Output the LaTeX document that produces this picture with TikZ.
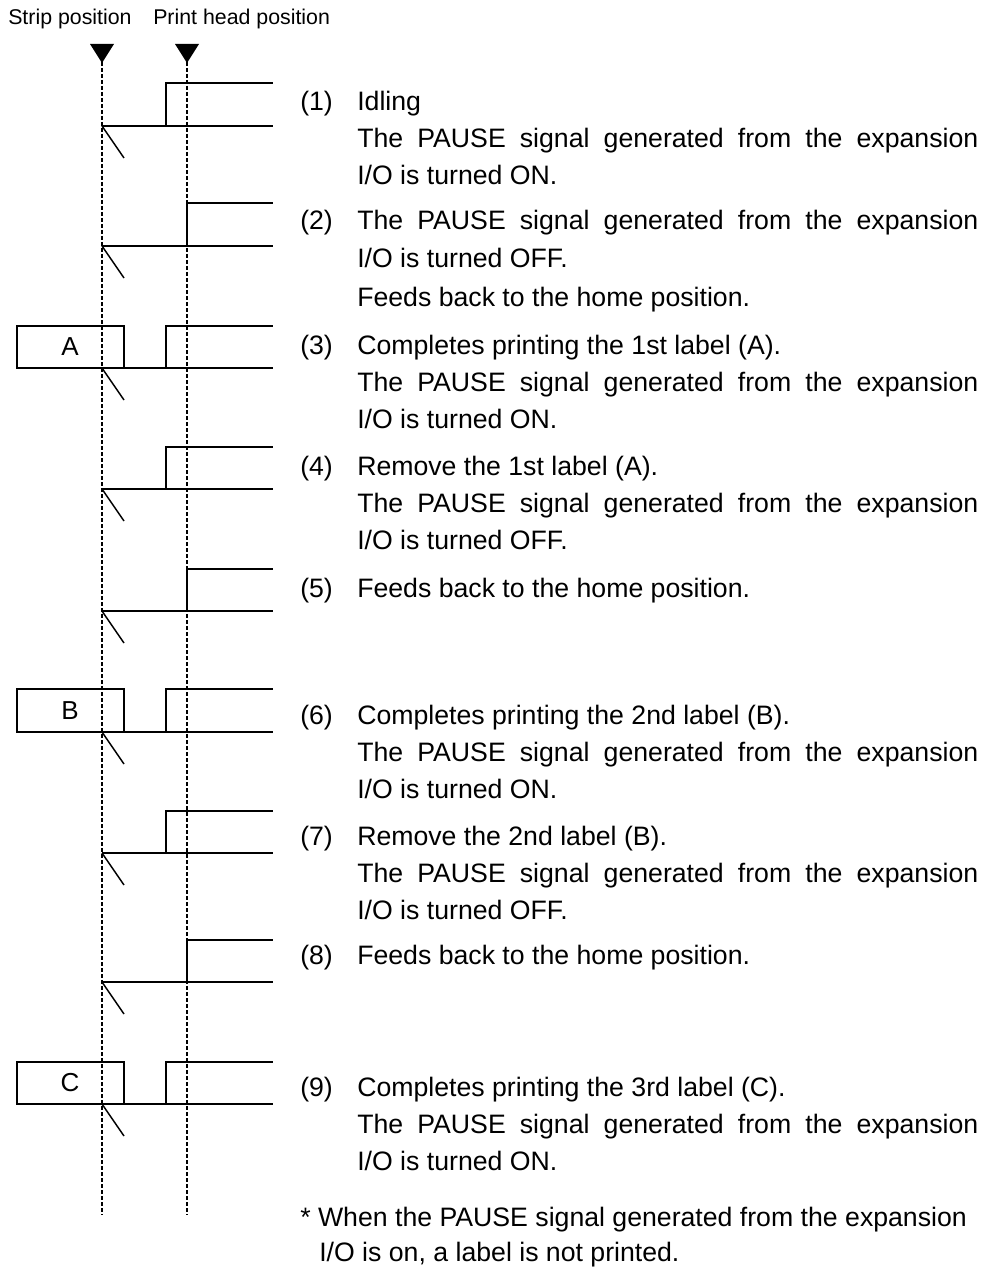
\documentclass[tikz,border=0pt]{standalone}
\usepackage{fontspec}
\setmainfont{Liberation Sans}
\newcommand\sigOn[2]{%
  \draw[sig] (102,#2) -- (273,#2);
  \draw[sig] (166,#2) -- (166,#1) -- (273,#1);
  \draw[diag] (102,#2) -- (124,#2+32);}
\newcommand\sigBack[2]{%
  \draw[sig] (102,#2) -- (273,#2);
  \draw[sig] (187,#2) -- (187,#1) -- (273,#1);
  \draw[diag] (102,#2) -- (124,#2+32);}
\newcommand\sigPrint[3]{%
  \draw[sig] (17,#1) rectangle (124,#2);
  \draw[sig] (124,#2) -- (273,#2);
  \draw[sig] (166,#2) -- (166,#1) -- (273,#1);
  \draw[diag] (102,#2) -- (124,#2+32);
  \node[lbl] (box#3) at (70,{(#1+#2)/2}) {#3};}
\newcommand\tline[4]{\node[txt] (#1) at (#2,#3) {#4};}
\newcommand\jline[2]{\node[txt] (#1) at (357,#2) {\makebox[465.75pt][s]{The PAUSE signal generated from the expansion}};}
\begin{document}
\begin{tikzpicture}[x=0.75pt,y=-0.75pt,
  sig/.style={line width=1.5pt, line join=miter},
  guide/.style={line width=1.1pt, dash pattern=on 3pt off 1.5pt},
  diag/.style={line width=1.1pt},
  pointer/.style={fill=black},
  txt/.style={anchor=base west, inner sep=0pt, font=\fontsize{20}{24}\selectfont},
  hdr/.style={anchor=base west, inner sep=0pt, font=\fontsize{16}{19}\selectfont},
  lbl/.style={inner sep=0pt, font=\fontsize{19.5}{23}\selectfont}]
\useasboundingbox (0,0) rectangle (993,1269);
% headers
\node[hdr] (hstrip) at (8,25) {Strip position};
\node[hdr] (hhead) at (153,25) {Print head position};
% pointers
\fill[pointer] (90,44) -- (114,44) -- (102,63) -- cycle;
\fill[pointer] (175,44) -- (199,44) -- (187,63) -- cycle;
% guide lines
\coordinate (s0) at (102,62); \coordinate (s1) at (102,1215);
\coordinate (p0) at (187,62); \coordinate (p1) at (187,1215);
\draw[guide] (s0) -- (s1);
\draw[guide] (p0) -- (p1);
% signals
\sigOn{83}{126}
\sigBack{203}{246}
\sigPrint{326}{368}{A}
\sigOn{447}{489}
\sigBack{569}{611}
\sigPrint{689}{732}{B}
\sigOn{811}{853}
\sigBack{940}{982}
\sigPrint{1062}{1104}{C}
% texts
\tline{n1}{300}{111}{(1)}
\tline{t1a}{357}{111}{Idling}
\jline{t1b}{148}
\tline{t1c}{357}{185}{I/O is turned ON.}
\tline{n2}{300}{230}{(2)}
\jline{t2a}{230}
\tline{t2b}{357}{268}{I/O is turned OFF.}
\tline{t2c}{357}{306}{Feeds back to the home position.}
\tline{n3}{300}{354}{(3)}
\tline{t3a}{357}{354}{Completes printing the 1st label (A).}
\jline{t3b}{391}
\tline{t3c}{357}{428}{I/O is turned ON.}
\tline{n4}{300}{475}{(4)}
\tline{t4a}{357}{475}{Remove the 1st label (A).}
\jline{t4b}{512}
\tline{t4c}{357}{549}{I/O is turned OFF.}
\tline{n5}{300}{597}{(5)}
\tline{t5a}{357}{597}{Feeds back to the home position.}
\tline{n6}{300}{724}{(6)}
\tline{t6a}{357}{724}{Completes printing the 2nd label (B).}
\jline{t6b}{761}
\tline{t6c}{357}{798}{I/O is turned ON.}
\tline{n7}{300}{845}{(7)}
\tline{t7a}{357}{845}{Remove the 2nd label (B).}
\jline{t7b}{882}
\tline{t7c}{357}{919}{I/O is turned OFF.}
\tline{n8}{300}{964}{(8)}
\tline{t8a}{357}{964}{Feeds back to the home position.}
\tline{n9}{300}{1096}{(9)}
\tline{t9a}{357}{1096}{Completes printing the 3rd label (C).}
\jline{t9b}{1133}
\tline{t9c}{357}{1170}{I/O is turned ON.}
\tline{nta}{300}{1226}{* When the PAUSE signal generated from the expansion}
\tline{ntb}{319}{1261}{I/O is on, a label is not printed.}
\end{tikzpicture}
\end{document}
